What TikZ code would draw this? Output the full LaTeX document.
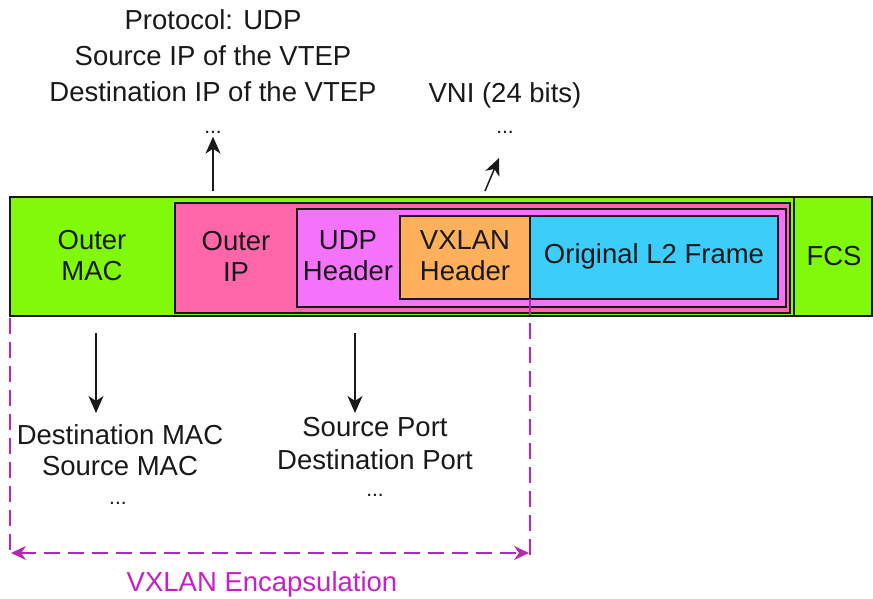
\documentclass[tikz,border=0pt]{standalone}
\usepackage{fontspec}
\setmainfont{Liberation Sans}
\usetikzlibrary{arrows.meta}

\definecolor{macgreen}{RGB}{128,250,10}
\definecolor{ippink}{RGB}{255,102,170}
\definecolor{udpviolet}{RGB}{245,115,250}
\definecolor{vxorange}{RGB}{255,176,90}
\definecolor{l2blue}{RGB}{60,205,250}
\definecolor{encap}{RGB}{180,40,180}
\definecolor{encaptext}{RGB}{200,30,200}
\definecolor{ink}{RGB}{25,25,25}

\begin{document}
\begin{tikzpicture}[x=1pt,y=-1pt,
  every node/.style={font=\fontsize{27.5}{31}\selectfont, text=ink},
  layer/.style={draw=ink, line width=1.3pt, inner sep=0pt, outer sep=0pt},
  label/.style={align=center, inner sep=0pt},
  note/.style={align=center, inner sep=0pt, font=\fontsize{27.5}{36}\selectfont},
  dots/.style={font=\fontsize{21}{21}\selectfont},
  arr/.style={draw=ink, line width=1.5pt, -{Stealth[length=17pt,width=15pt,inset=5pt]}},
  encline/.style={draw=encap, line width=1.6pt, dash pattern=on 16pt off 8pt},
  encarrow/.style={encline, {Stealth[length=15pt,width=14pt,inset=5pt]}-{Stealth[length=15pt,width=14pt,inset=5pt]}}]

\useasboundingbox (0,0) rectangle (873,599);

% nested headers of the encapsulated frame
\node[layer, fill=macgreen, minimum width=862pt, minimum height=119pt] (frame) at (441,256.5) {};
\node[layer, fill=ippink, minimum width=615pt, minimum height=110pt] (ip) at (482.5,258) {};
\node[layer, fill=udpviolet, minimum width=489pt, minimum height=98pt] (udp) at (541.5,258) {};
\node[layer, fill=vxorange, minimum width=130pt, minimum height=83pt] (vx) at (465,257.5) {};
\node[layer, fill=l2blue, minimum width=248pt, minimum height=83pt] (l2) at (654,257.5) {};
\coordinate (fcsTop) at (794,197);
\draw[draw=ink, line width=1.3pt] (fcsTop) -- (fcsTop |- frame.south);

% header labels
\node[label] (macl) at (92,256) {Outer\\MAC};
\node[label] (ipl) at (236,256) {Outer\\IP};
\node[label] (udpl) at (348,256) {UDP\\Header};
\node[label] (vxl) at (465,256) {VXLAN\\Header};
\node[label] (l2l) at (654,256) {Original L2 Frame};
\node[label] (fcsl) at (834,256) {FCS};

% field notes above the frame
\node[note] (ipnote) at (213,56) {Protocol: UDP\\Source IP of the VTEP\\Destination IP of the VTEP};
\node[dots] (ipdots) at (213,132) {...};
\node[label] (vninote) at (505,95) {VNI (24 bits)};
\node[dots] (vnidots) at (505,132) {...};
\coordinate (ipA) at (213,191);
\coordinate (vniA) at (485,191);
\coordinate (vniB) at (499,158);
\draw[arr] (ipA) -- (ipA |- ipdots.south);
\draw[arr] (vniA) -- (vniB);

% field notes below the frame
\node[note, font=\fontsize{27.5}{31}\selectfont] (macnote) at (120,450) {Destination MAC\\Source MAC};
\node[dots] (macdots) at (118,503) {...};
\node[note, font=\fontsize{27.5}{33}\selectfont] (udpnote) at (375,444) {Source Port\\Destination Port};
\node[dots] (udpdots) at (375,495) {...};
\coordinate (macA) at (96,333);
\coordinate (udpA) at (355,333);
\coordinate (macB) at (96,413);
\coordinate (udpB) at (355,413);
\draw[arr] (macA) -- (macB);
\draw[arr] (udpA) -- (udpB);

% extent of the VXLAN encapsulation
\coordinate (encTL) at (10,318);
\coordinate (encBL) at (10,557);
\coordinate (encTR) at (530,299);
\coordinate (encBR) at (530,557);
\draw[encline] (encTL) -- (encBL);
\draw[encline] (encTR) -- (encBR);
\coordinate (encL) at (11,553);
\coordinate (encR) at (529,553);
\draw[encarrow] (encL) -- (encR);
\node[label, text=encaptext] (enclabel) at (262,584) {VXLAN Encapsulation};
\end{tikzpicture}
\end{document}
